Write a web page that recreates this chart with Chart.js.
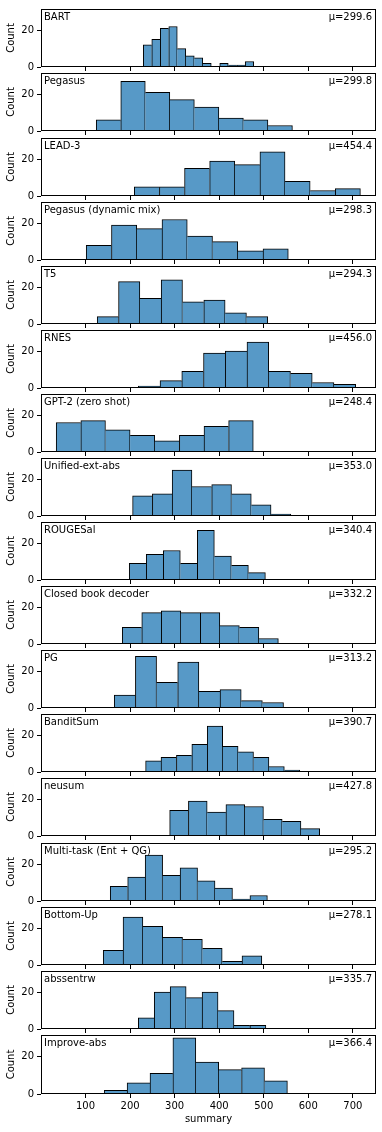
<!DOCTYPE html>
<html>
<head>
<meta charset="utf-8">
<script src="https://cdn.jsdelivr.net/npm/chart.js@4/dist/chart.umd.min.js"></script>
<style>
html,body{margin:0;padding:0;background:#fff;}
body{width:382px;height:1132px;position:relative;overflow:hidden;}
canvas{position:absolute;left:0;}
</style>
</head>
<body>
<script>
// ---------- data ----------
const models = ["BART","Pegasus","LEAD-3","Pegasus (dynamic mix)","T5","RNES","GPT-2 (zero shot)",
  "Unified-ext-abs","ROUGESal","Closed book decoder","PG","BanditSum","neusum",
  "Multi-task (Ent + QG)","Bottom-Up","abssentrw","Improve-abs"];
const means = [299.6,299.8,454.4,298.3,294.3,456.0,248.4,353.0,340.4,332.2,313.2,390.7,427.8,295.2,278.1,335.7,366.4];
// left edge of the first bin and bin width (summary length units)
const binStart = [229.6,124.0,209.4,101.5,126.2,218.4,34.1,205.6,198.1,182.4,164.4,234.8,288.8,155.4,139.7,218.4,141.9];
const binWidth = [19.07,55.05,56.4,56.7,47.85,48.8,55.3,44.4,38.2,43.8,47.5,34.6,42.1,39.2,44.5,35.8,51.4];
const counts = [
  [12,15,21,22,10,6,5,2,0,2,1,1,3],
  [6,27,21,17,13,7,6,3],
  [5,5,15,19,17,24,8,3,4],
  [8,19,17,22,13,10,5,6],
  [4,23,14,24,12,13,6,4],
  [1,4,9,19,20,25,9,8,3,2],
  [16,17,12,9,6,9,14,17],
  [11,12,25,16,17,12,6,1],
  [9,14,16,9,27,13,8,4],
  [9,17,18,17,17,10,9,3],
  [7,28,14,25,9,10,4,3],
  [6,8,9,15,25,14,11,8,3,1],
  [14,19,13,17,16,9,8,4],
  [8,13,25,14,18,11,7,1,3],
  [8,26,21,15,14,9,2,5],
  [6,20,23,17,20,10,2,2],
  [2,6,11,30,17,13,14,7]
];
const xTicks = [100,200,300,400,500,600,700];
const yTicks = [0,20];
const xRange = [0, 752];
const yRange = [0, 31.5];
const xLabel = "summary";
const yLabel = "Count";

// ---------- styling ----------
Chart.defaults.font.family = '"DejaVu Sans", sans-serif';
Chart.defaults.font.size = 10;
Chart.defaults.color = '#000';

const barFill = 'rgb(87,153,199)';

const framePlugin = {
  id: 'frame',
  afterDraw(chart, args, opts) {
    const {ctx, chartArea} = chart;
    const l = Math.round(chartArea.left), t = Math.round(chartArea.top);
    const r = Math.round(chartArea.right), b = Math.round(chartArea.bottom);
    ctx.save();
    ctx.strokeStyle = '#000';
    ctx.lineWidth = 1;
    ctx.strokeRect(l + 0.5, t + 0.5, r - l - 1, b - t - 1);
    ctx.font = '10px "DejaVu Sans", sans-serif';
    ctx.fillStyle = '#000';
    ctx.textBaseline = 'alphabetic';
    ctx.textAlign = 'left';
    ctx.fillText(opts.name, l + 3, t + 11);
    ctx.textAlign = 'right';
    ctx.fillText(opts.mu, r - 4, t + 11);
    ctx.restore();
  }
};

const n = models.length;
const padTop = 7;
const areaH = 61;
for (let k = 0; k < n; k++) {
  const isLast = k === n - 1;
  const areaTop = Math.round(7.3 + 64.1 * k);
  const cTop = areaTop - padTop;
  const xH = isLast ? (1132 - (areaTop + areaH)) : 8;
  const cH = padTop + areaH + xH;
  const cv = document.createElement('canvas');
  cv.width = 382; cv.height = cH;
  cv.style.top = cTop + 'px';
  cv.style.width = '382px'; cv.style.height = cH + 'px';
  document.body.appendChild(cv);

  const arr = counts[k];
  const pts = arr.map((c, i) => ({x: binStart[k] + (i + 0.5) * binWidth[k], y: c}));
  const gridOpts = {display: true, drawOnChartArea: false, drawTicks: true, tickLength: 4, color: '#000', lineWidth: 1, offset: false};

  new Chart(cv, {
    type: 'bar',
    data: {
      datasets: [{
        data: pts,
        backgroundColor: barFill,
        borderColor: '#000',
        borderSkipped: false,
        borderWidth: (c) => {
          const i = c.dataIndex;
          const v = arr[i];
          const prev = i > 0 ? arr[i - 1] : 0;
          const next = i < arr.length - 1 ? arr[i + 1] : 0;
          return {top: 1, bottom: 0, left: prev <= v ? 1 : 0, right: next < v ? 1 : 0};
        },
        categoryPercentage: 1,
        barPercentage: 1
      }]
    },
    options: {
      responsive: false,
      animation: false,
      devicePixelRatio: 1,
      layout: {padding: {top: padTop, right: 6, left: 0, bottom: 0}},
      plugins: {
        legend: {display: false},
        tooltip: {enabled: false},
        frame: {name: models[k], mu: 'μ=' + means[k].toFixed(1)}
      },
      scales: {
        x: {
          type: 'linear',
          min: xRange[0], max: xRange[1],
          offset: false,
          grid: gridOpts,
          border: {display: false},
          ticks: {display: isLast, padding: 2, maxRotation: 0, autoSkip: false, color: '#000'},
          title: {display: isLast, text: xLabel, color: '#000', padding: {top: 0, bottom: 7}},
          afterBuildTicks: (s) => { s.ticks = xTicks.map(v => ({value: v})); },
          afterFit: (s) => { s.height = xH; }
        },
        y: {
          type: 'linear',
          min: yRange[0], max: yRange[1],
          grid: gridOpts,
          border: {display: false},
          ticks: {padding: 3, color: '#000'},
          title: {display: true, text: yLabel, color: '#000', padding: {top: 5, bottom: 0}},
          afterBuildTicks: (s) => { s.ticks = yTicks.map(v => ({value: v})); },
          afterFit: (s) => { s.width = 41; }
        }
      }
    },
    plugins: [framePlugin]
  });
}
</script>
</body>
</html>
